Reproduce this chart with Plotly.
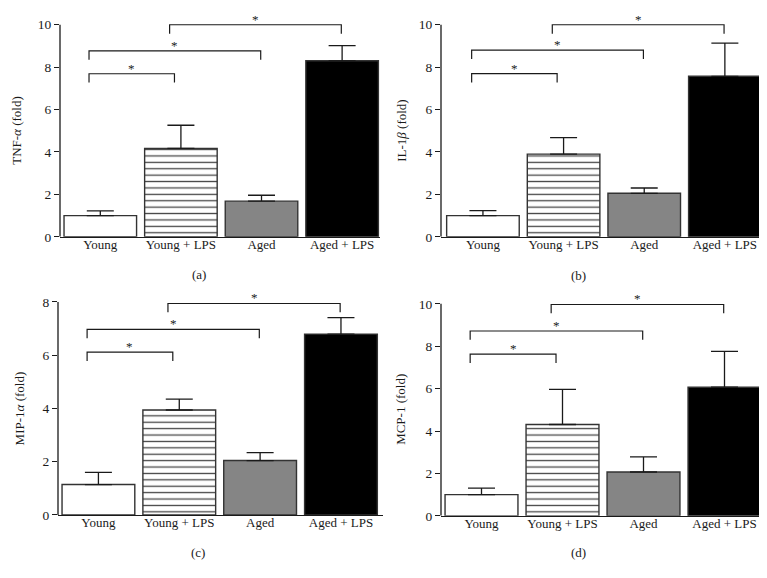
import plotly.graph_objects as go

# ---------------- data ----------------
categories = ["Young", "Young + LPS", "Aged", "Aged + LPS"]

tnf_mean = [1.0, 4.17, 1.68, 8.30]
tnf_sem = [0.22, 1.09, 0.28, 0.72]

il1b_mean = [1.0, 3.90, 2.05, 7.57]
il1b_sem = [0.23, 0.78, 0.25, 1.56]

mip_mean = [1.14, 3.94, 2.04, 6.79]
mip_sem = [0.46, 0.41, 0.30, 0.62]

mcp_mean = [1.0, 4.31, 2.07, 6.07]
mcp_sem = [0.31, 1.66, 0.71, 1.69]

# significance brackets: (group i, group j, bracket height)
tnf_brackets = [(0, 1, 7.69), (0, 2, 8.77), (1, 3, 10.0)]
il1b_brackets = [(0, 1, 7.70), (0, 2, 8.80), (1, 3, 10.0)]
mip_brackets = [(0, 1, 6.11), (0, 2, 6.97), (1, 3, 7.94)]
mcp_brackets = [(0, 1, 7.63), (0, 2, 8.72), (1, 3, 9.97)]

y_titles = ["TNF-<i>α</i> (fold)", "IL-1<i>β</i> (fold)", "MIP-1<i>α</i> (fold)", "MCP-1 (fold)"]
panel_labels = ["(a)", "(b)", "(c)", "(d)"]

# ---------------- styling / layout ----------------
W, H = 767, 578
FONT = "Liberation Serif, Times New Roman, serif"
INK = "#1a1a1a"
bar_colors = ["white", "white", "#858585", "black"]
bar_patterns = ["", "-", "", ""]

panels = [
    dict(mean=tnf_mean, sem=tnf_sem, br=tnf_brackets, xpx=(52, 372), xr=(-0.5, 3.47),
         y0=232, ppu=21.5, ymax=10.6, yticks=[0, 2, 4, 6, 8, 10], ytop=10,
         title_x=15, label=(190.7, 270.7)),
    dict(mean=il1b_mean, sem=il1b_sem, br=il1b_brackets, xpx=(433, 758), xr=(-0.52, 3.51),
         y0=232, ppu=21.5, ymax=10.6, yticks=[0, 2, 4, 6, 8, 10], ytop=10,
         title_x=400, label=(570.7, 271.7)),
    dict(mean=mip_mean, sem=mip_sem, br=mip_brackets, xpx=(50, 375), xr=(-0.5, 3.52),
         y0=514, ppu=27.0, ymax=8.4, yticks=[0, 2, 4, 6, 8], ytop=8,
         title_x=17, label=(190.0, 552.0)),
    dict(mean=mcp_mean, sem=mcp_sem, br=mcp_brackets, xpx=(433, 757), xr=(-0.5, 3.5),
         y0=515, ppu=21.5, ymax=10.6, yticks=[0, 2, 4, 6, 8, 10], ytop=10,
         title_x=399, label=(570.7, 551.7)),
]

fig = go.Figure()
layout = dict(
    width=W, height=H, margin=dict(l=0, r=0, t=0, b=0),
    paper_bgcolor="white", plot_bgcolor="white", showlegend=False,
    font=dict(family=FONT, size=13, color=INK),
)
annotations = []
shapes = []
xs = list(range(len(categories)))

for k, p in enumerate(panels):
    sfx = "" if k == 0 else str(k + 1)
    xa, ya = "x" + sfx, "y" + sfx
    xdom = [p["xpx"][0] / W, p["xpx"][1] / W]
    top_px = round(p["y0"] - p["ymax"] * p["ppu"])
    ybot = 1 - p["y0"] / H
    ytop = 1 - top_px / H
    ymax = (p["y0"] - top_px) / p["ppu"]
    layout["xaxis" + sfx] = dict(
        domain=xdom, anchor=ya, range=list(p["xr"]), tickmode="array",
        tickvals=xs, ticktext=categories, showline=True, linecolor=INK, linewidth=1.3,
        ticks="", showgrid=False, zeroline=False, fixedrange=True,
        ticklabelstandoff=-5,
        tickfont=dict(family=FONT, size=13, color=INK),
    )
    layout["yaxis" + sfx] = dict(
        domain=[ybot, ytop], anchor=xa, range=[0, ymax], tickmode="array",
        tickvals=p["yticks"], showline=False, ticks="outside", ticklen=5,
        tickcolor=INK, tickwidth=1.3, showgrid=False, zeroline=False,
        tickfont=dict(family=FONT, size=13.5, color=INK),
    )
    # y axis line only up to the last tick
    shapes.append(dict(type="line", xref=xa + " domain", yref=ya, x0=0, x1=0,
                       y0=0, y1=p["ytop"], line=dict(color=INK, width=1.3)))

    fig.add_trace(go.Bar(
        x=xs, y=p["mean"], width=0.9, xaxis=xa, yaxis=ya,
        marker=dict(color=bar_colors, line=dict(color="#333333", width=1.4),
                    pattern=dict(shape=bar_patterns, fgcolor="black", bgcolor="white",
                                 fgopacity=1, size=6.4, solidity=0.2, fillmode="overlay")),
        error_y=dict(type="data", symmetric=False, array=p["sem"],
                     arrayminus=[0] * len(xs), width=13.5, thickness=1.3, color=INK),
        hoverinfo="skip",
    ))

    drop = 9 / p["ppu"]
    for (i, j, yb) in p["br"]:
        xl = i - 0.14
        xr = j - (0.08 if j == 1 else 0.01)
        fig.add_trace(go.Scatter(
            x=[xl, xl, xr, xr], y=[yb - drop, yb, yb, yb - drop], mode="lines",
            line=dict(color=INK, width=1.2), xaxis=xa, yaxis=ya, hoverinfo="skip",
        ))
        annotations.append(dict(x=(xl + xr) / 2, y=yb, xref=xa, yref=ya, text="*",
                                showarrow=False, yanchor="bottom", yshift=-4,
                                font=dict(family=FONT, size=13, color=INK)))

    annotations.append(dict(x=(p["title_x"] - 6) / W, y=p["ytop"] / 2, xref="paper", yref=ya,
                            text=y_titles[k], textangle=-90, showarrow=False,
                            xanchor="center", yanchor="middle",
                            font=dict(family=FONT, size=13, color=INK)))
    annotations.append(dict(x=p["label"][0] / W, y=1 - p["label"][1] / H, xref="paper",
                            yref="paper", text=panel_labels[k], showarrow=False,
                            xanchor="center", yanchor="middle",
                            font=dict(family=FONT, size=13, color=INK)))

layout["annotations"] = annotations
layout["shapes"] = shapes
fig.update_layout(**layout)
fig.write_html("out.html")
